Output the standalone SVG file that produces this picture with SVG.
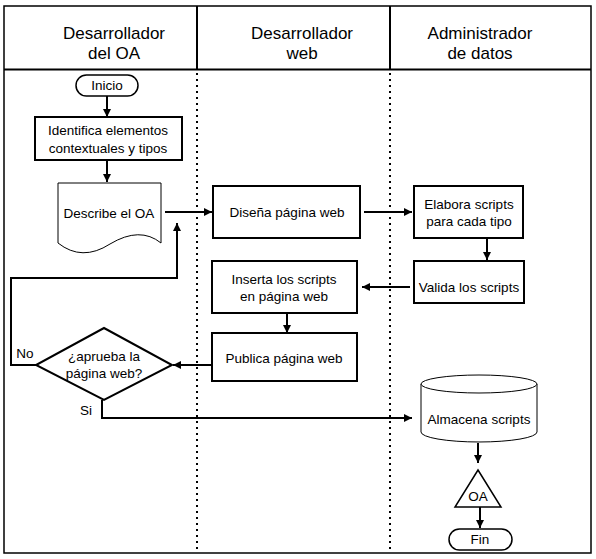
<svg xmlns="http://www.w3.org/2000/svg" width="596" height="559" viewBox="0 0 596 559">
<defs>
<marker id="ah" viewBox="0 0 10 10" refX="10" refY="5" markerWidth="8" markerHeight="8" markerUnits="userSpaceOnUse" orient="auto">
<path d="M0,0 L10,5 L0,10 z" fill="#000"/>
</marker>
<style>
.t{font-family:"Liberation Sans",Arial,sans-serif;font-size:13.5px;fill:#000;text-anchor:middle}
.h{font-family:"Liberation Sans",Arial,sans-serif;font-size:17px;fill:#000;text-anchor:middle}
.box{fill:#fff;stroke:#000;stroke-width:2}
.thin{fill:#fff;stroke:#000;stroke-width:1}
.pill{fill:#fff;stroke:#000;stroke-width:1.5}
.c{fill:none;stroke:#000;stroke-width:2}
.dot{stroke:#000;stroke-width:2;stroke-dasharray:2 4;fill:none}
</style>
</defs>
<rect width="596" height="559" fill="#fff"/>
<g id="lanes">
<rect x="4" y="6" width="587" height="547" fill="none" stroke="#000" stroke-width="1.5"/>
<line x1="4" y1="69.5" x2="591" y2="69.5" stroke="#000" stroke-width="2"/>
<line x1="197" y1="6" x2="197" y2="69" stroke="#000" stroke-width="2"/>
<line x1="390" y1="6" x2="390" y2="69" stroke="#000" stroke-width="2"/>
<line class="dot" x1="197" y1="73" x2="197" y2="553"/>
<line class="dot" x1="390" y1="73" x2="390" y2="553"/>
<text class="h" x="114" y="39">Desarrollador</text>
<text class="h" x="114" y="59">del OA</text>
<text class="h" x="302" y="39">Desarrollador</text>
<text class="h" x="302" y="59">web</text>
<text class="h" x="480" y="39">Administrador</text>
<text class="h" x="480" y="59">de datos</text>
</g>
<g id="connectors">
<line class="c" x1="107" y1="96" x2="107" y2="117" marker-end="url(#ah)"/>
<line class="c" x1="107" y1="160" x2="107" y2="182" marker-end="url(#ah)"/>
<line class="c" x1="165" y1="212" x2="212" y2="212" marker-end="url(#ah)"/>
<line class="c" x1="364" y1="212" x2="412" y2="212" marker-end="url(#ah)"/>
<line class="c" x1="487" y1="238" x2="487" y2="260" marker-end="url(#ah)"/>
<line class="c" x1="410" y1="287" x2="362" y2="287" marker-end="url(#ah)"/>
<line class="c" x1="287" y1="313" x2="287" y2="333" marker-end="url(#ah)"/>
<line class="c" x1="212" y1="365" x2="173" y2="365" marker-end="url(#ah)"/>
<polyline class="c" points="36,365 11,365 11,278 177,278 177,223" marker-end="url(#ah)"/>
<polyline class="c" points="102,400 102,418 412,418" marker-end="url(#ah)"/>
<line class="c" x1="478" y1="443" x2="478" y2="463" marker-end="url(#ah)"/>
<line class="c" x1="480" y1="507" x2="480" y2="528" marker-end="url(#ah)"/>
<text class="t" x="25" y="358">No</text>
<text class="t" x="86" y="415">Si</text>
</g>
<g id="inicio">
<rect class="pill" x="76" y="75" width="62" height="21" rx="10.5"/>
<text class="t" x="107" y="90">Inicio</text>
</g>
<g id="identifica">
<rect class="box" x="35" y="117" width="147" height="43"/>
<text class="t" x="108" y="135">Identifica elementos</text>
<text class="t" x="108" y="153">contextuales y tipos</text>
</g>
<g id="describe">
<path class="thin" d="M58,183 H161 V243 Q140,226 110,244 Q82,262 58,243 Z"/>
<text class="t" x="109" y="218">Describe el OA</text>
</g>
<g id="disena">
<rect class="box" x="213" y="186" width="147" height="52"/>
<text class="t" x="287" y="217">Diseña página web</text>
</g>
<g id="elabora">
<rect class="box" x="414" y="186" width="109" height="52"/>
<text class="t" x="469" y="209">Elabora scripts</text>
<text class="t" x="469" y="226">para cada tipo</text>
</g>
<g id="valida">
<rect class="box" x="414" y="261" width="110" height="42"/>
<text class="t" x="469" y="292">Valida los scripts</text>
</g>
<g id="inserta">
<rect class="box" x="212" y="261" width="145" height="52"/>
<text class="t" x="284" y="284">Inserta los scripts</text>
<text class="t" x="284" y="301">en página web</text>
</g>
<g id="publica">
<rect class="box" x="212" y="333" width="145" height="48"/>
<text class="t" x="284" y="363">Publica página web</text>
</g>
<g id="decision">
<polygon class="box" points="104,328 172,365 104,400 36,365"/>
<text class="t" x="104" y="361">¿aprueba la</text>
<text class="t" x="104" y="378">página web?</text>
</g>
<g id="almacena">
<path class="thin" d="M421,384 V432 A58,10 0 0 0 537,432 V384"/>
<ellipse class="thin" cx="479" cy="384" rx="58" ry="9"/>
<text class="t" x="479" y="424">Almacena scripts</text>
</g>
<g id="oa">
<polygon class="pill" points="478,470 501,507 455,507"/>
<text class="t" x="478" y="501">OA</text>
</g>
<g id="fin">
<rect class="pill" x="449" y="529" width="63" height="21" rx="10.5"/>
<text class="t" x="480" y="544">Fin</text>
</g>
</svg>
